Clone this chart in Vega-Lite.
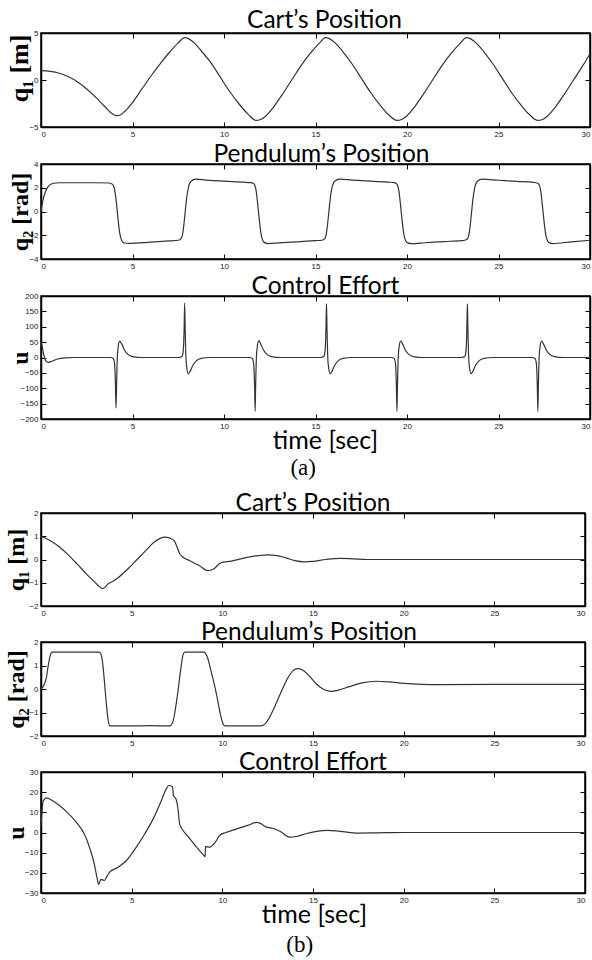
{
"$schema": "https://vega.github.io/schema/vega-lite/v6.json",
"background": "white",
"padding": {"left": 3, "top": 6, "right": 0, "bottom": 0},
"spacing": 9,
"datasets": {
"a1": [{"t":0,"v":1.0},{"t":0.5,"v":0.92},{"t":1,"v":0.72},{"t":1.5,"v":0.35},{"t":2,"v":-0.2},{"t":2.5,"v":-0.95},{"t":3,"v":-1.85},{"t":3.5,"v":-2.85},{"t":3.9,"v":-3.6},{"t":4.1,"v":-3.8},{"t":4.3,"v":-3.75},{"t":4.6,"v":-3.3},{"t":5,"v":-2.4},{"t":5.5,"v":-1.0},{"t":6,"v":0.4},{"t":6.5,"v":1.7},{"t":7,"v":2.9},{"t":7.5,"v":3.95},{"t":7.85,"v":4.5},{"t":8.1,"v":4.35},{"t":8.4,"v":3.9},{"t":8.8,"v":3.0},{"t":9.3,"v":1.8},{"t":9.8,"v":0.3},{"t":10.3,"v":-1.2},{"t":10.8,"v":-2.5},{"t":11.3,"v":-3.6},{"t":11.75,"v":-4.3},{"t":12,"v":-4.2},{"t":12.3,"v":-3.8},{"t":12.7,"v":-2.9},{"t":13.2,"v":-1.5},{"t":13.7,"v":0.0},{"t":14.2,"v":1.5},{"t":14.7,"v":2.8},{"t":15.2,"v":3.9},{"t":15.55,"v":4.5},{"t":15.8,"v":4.35},{"t":16.1,"v":3.9},{"t":16.5,"v":3.0},{"t":17,"v":1.7},{"t":17.5,"v":0.2},{"t":18,"v":-1.3},{"t":18.5,"v":-2.6},{"t":19,"v":-3.7},{"t":19.45,"v":-4.3},{"t":19.7,"v":-4.2},{"t":20,"v":-3.8},{"t":20.4,"v":-2.9},{"t":20.9,"v":-1.5},{"t":21.4,"v":0.0},{"t":21.9,"v":1.5},{"t":22.4,"v":2.8},{"t":22.9,"v":3.9},{"t":23.25,"v":4.5},{"t":23.5,"v":4.35},{"t":23.8,"v":3.9},{"t":24.2,"v":3.0},{"t":24.7,"v":1.7},{"t":25.2,"v":0.2},{"t":25.7,"v":-1.3},{"t":26.2,"v":-2.6},{"t":26.7,"v":-3.7},{"t":27.15,"v":-4.3},{"t":27.4,"v":-4.2},{"t":27.7,"v":-3.8},{"t":28.1,"v":-2.9},{"t":28.6,"v":-1.5},{"t":29.1,"v":0.0},{"t":29.6,"v":1.5},{"t":30,"v":2.8}],
"a2": [{"t":0,"v":0},{"t":0.1,"v":0.9},{"t":0.25,"v":1.7},{"t":0.45,"v":2.2},{"t":0.7,"v":2.38},{"t":1.0,"v":2.42},{"t":2.0,"v":2.42},{"t":3.0,"v":2.42},{"t":3.7,"v":2.4},{"t":3.9,"v":2.3},{"t":4.0,"v":2.0},{"t":4.1,"v":1.0},{"t":4.2,"v":-0.5},{"t":4.3,"v":-1.8},{"t":4.4,"v":-2.4},{"t":4.55,"v":-2.65},{"t":4.8,"v":-2.68},{"t":6,"v":-2.58},{"t":7,"v":-2.48},{"t":7.5,"v":-2.42},{"t":7.65,"v":-2.3},{"t":7.75,"v":-1.8},{"t":7.85,"v":-0.5},{"t":7.95,"v":1.0},{"t":8.05,"v":2.0},{"t":8.2,"v":2.55},{"t":8.45,"v":2.72},{"t":9,"v":2.65},{"t":10,"v":2.55},{"t":11,"v":2.47},{"t":11.5,"v":2.43},{"t":11.65,"v":2.3},{"t":11.75,"v":1.8},{"t":11.85,"v":0.5},{"t":11.95,"v":-1.0},{"t":12.05,"v":-2.1},{"t":12.2,"v":-2.6},{"t":12.4,"v":-2.7},{"t":13,"v":-2.65},{"t":14,"v":-2.55},{"t":15,"v":-2.45},{"t":15.35,"v":-2.42},{"t":15.5,"v":-2.3},{"t":15.6,"v":-1.8},{"t":15.7,"v":-0.5},{"t":15.8,"v":1.0},{"t":15.9,"v":2.0},{"t":16.05,"v":2.55},{"t":16.3,"v":2.72},{"t":17,"v":2.65},{"t":18,"v":2.55},{"t":19,"v":2.47},{"t":19.3,"v":2.43},{"t":19.45,"v":2.3},{"t":19.55,"v":1.8},{"t":19.65,"v":0.5},{"t":19.75,"v":-1.0},{"t":19.85,"v":-2.1},{"t":20.0,"v":-2.6},{"t":20.2,"v":-2.7},{"t":21,"v":-2.63},{"t":22,"v":-2.53},{"t":23,"v":-2.45},{"t":23.15,"v":-2.42},{"t":23.3,"v":-2.3},{"t":23.4,"v":-1.8},{"t":23.5,"v":-0.5},{"t":23.6,"v":1.0},{"t":23.7,"v":2.0},{"t":23.85,"v":2.55},{"t":24.1,"v":2.72},{"t":25,"v":2.63},{"t":26,"v":2.53},{"t":26.9,"v":2.45},{"t":27.1,"v":2.4},{"t":27.2,"v":2.3},{"t":27.3,"v":1.8},{"t":27.4,"v":0.5},{"t":27.5,"v":-1.0},{"t":27.6,"v":-2.1},{"t":27.75,"v":-2.6},{"t":27.95,"v":-2.7},{"t":29,"v":-2.55},{"t":30,"v":-2.42}],
"a3": [{"t":0,"v":50},{"t":0.05,"v":40},{"t":0.15,"v":10},{"t":0.25,"v":-10},{"t":0.4,"v":-16},{"t":0.6,"v":-12},{"t":0.9,"v":-5},{"t":1.3,"v":-1},{"t":1.8,"v":0},{"t":3.8,"v":0},{"t":3.95,"v":-3},{"t":4.02,"v":-20},{"t":4.07,"v":-90},{"t":4.1,"v":-165},{"t":4.13,"v":-90},{"t":4.17,"v":0},{"t":4.22,"v":35},{"t":4.3,"v":53},{"t":4.4,"v":45},{"t":4.55,"v":25},{"t":4.75,"v":10},{"t":5.0,"v":3},{"t":5.5,"v":0},{"t":7.55,"v":0},{"t":7.7,"v":3},{"t":7.77,"v":20},{"t":7.82,"v":90},{"t":7.85,"v":177},{"t":7.88,"v":90},{"t":7.92,"v":0},{"t":7.97,"v":-35},{"t":8.05,"v":-53},{"t":8.15,"v":-45},{"t":8.3,"v":-25},{"t":8.5,"v":-10},{"t":8.75,"v":-3},{"t":9.25,"v":0},{"t":11.4,"v":0},{"t":11.55,"v":-3},{"t":11.62,"v":-20},{"t":11.67,"v":-90},{"t":11.7,"v":-175},{"t":11.73,"v":-90},{"t":11.77,"v":0},{"t":11.82,"v":35},{"t":11.9,"v":55},{"t":12.0,"v":45},{"t":12.15,"v":25},{"t":12.35,"v":10},{"t":12.6,"v":3},{"t":13.1,"v":0},{"t":15.3,"v":0},{"t":15.45,"v":3},{"t":15.52,"v":20},{"t":15.57,"v":90},{"t":15.6,"v":175},{"t":15.63,"v":90},{"t":15.67,"v":0},{"t":15.72,"v":-35},{"t":15.8,"v":-53},{"t":15.9,"v":-45},{"t":16.05,"v":-25},{"t":16.25,"v":-10},{"t":16.5,"v":-3},{"t":17,"v":0},{"t":19.15,"v":0},{"t":19.3,"v":-3},{"t":19.37,"v":-20},{"t":19.42,"v":-90},{"t":19.45,"v":-175},{"t":19.48,"v":-90},{"t":19.52,"v":0},{"t":19.57,"v":35},{"t":19.65,"v":53},{"t":19.75,"v":45},{"t":19.9,"v":25},{"t":20.1,"v":10},{"t":20.35,"v":3},{"t":20.85,"v":0},{"t":23.0,"v":0},{"t":23.15,"v":3},{"t":23.22,"v":20},{"t":23.27,"v":90},{"t":23.3,"v":175},{"t":23.33,"v":90},{"t":23.37,"v":0},{"t":23.42,"v":-35},{"t":23.5,"v":-53},{"t":23.6,"v":-45},{"t":23.75,"v":-25},{"t":23.95,"v":-10},{"t":24.2,"v":-3},{"t":24.7,"v":0},{"t":26.85,"v":0},{"t":27.0,"v":-3},{"t":27.07,"v":-20},{"t":27.12,"v":-90},{"t":27.15,"v":-175},{"t":27.18,"v":-90},{"t":27.22,"v":0},{"t":27.27,"v":35},{"t":27.35,"v":53},{"t":27.45,"v":45},{"t":27.6,"v":25},{"t":27.8,"v":10},{"t":28.05,"v":3},{"t":28.55,"v":0},{"t":30,"v":0}],
"b1": [{"t":0,"v":1.0},{"t":0.5,"v":0.82},{"t":1,"v":0.55},{"t":1.5,"v":0.2},{"t":2,"v":-0.2},{"t":2.5,"v":-0.62},{"t":3,"v":-1.0},{"t":3.4,"v":-1.25},{"t":3.55,"v":-1.18},{"t":3.7,"v":-1.05},{"t":4,"v":-0.92},{"t":4.3,"v":-0.75},{"t":4.8,"v":-0.4},{"t":5.3,"v":0.0},{"t":5.8,"v":0.4},{"t":6.2,"v":0.72},{"t":6.6,"v":0.92},{"t":6.8,"v":0.96},{"t":7.1,"v":0.92},{"t":7.35,"v":0.8},{"t":7.5,"v":0.55},{"t":7.65,"v":0.25},{"t":7.8,"v":0.12},{"t":8.2,"v":-0.05},{"t":8.7,"v":-0.25},{"t":9.2,"v":-0.48},{"t":9.5,"v":-0.42},{"t":9.9,"v":-0.15},{"t":10.5,"v":-0.07},{"t":11.3,"v":0.08},{"t":12,"v":0.17},{"t":12.5,"v":0.2},{"t":13,"v":0.17},{"t":13.5,"v":0.07},{"t":14,"v":-0.05},{"t":14.5,"v":-0.1},{"t":15,"v":-0.08},{"t":15.7,"v":0.0},{"t":16.5,"v":0.05},{"t":17.2,"v":0.03},{"t":18,"v":0.0},{"t":20,"v":0},{"t":25,"v":0},{"t":30,"v":0}],
"b2": [{"t":0,"v":0},{"t":0.15,"v":0.15},{"t":0.3,"v":0.5},{"t":0.4,"v":1.0},{"t":0.5,"v":1.4},{"t":0.6,"v":1.57},{"t":1,"v":1.57},{"t":2,"v":1.57},{"t":3.2,"v":1.57},{"t":3.3,"v":1.5},{"t":3.4,"v":1.1},{"t":3.5,"v":0.3},{"t":3.6,"v":-0.6},{"t":3.7,"v":-1.3},{"t":3.8,"v":-1.57},{"t":5,"v":-1.57},{"t":6,"v":-1.56},{"t":7.1,"v":-1.57},{"t":7.25,"v":-1.45},{"t":7.5,"v":-0.4},{"t":7.7,"v":0.8},{"t":7.85,"v":1.5},{"t":7.95,"v":1.57},{"t":9.0,"v":1.57},{"t":9.15,"v":1.4},{"t":9.4,"v":0.7},{"t":9.7,"v":-0.3},{"t":9.9,"v":-1.1},{"t":10.05,"v":-1.5},{"t":10.15,"v":-1.57},{"t":12.1,"v":-1.57},{"t":12.4,"v":-1.45},{"t":12.8,"v":-0.9},{"t":13.2,"v":-0.2},{"t":13.6,"v":0.45},{"t":13.9,"v":0.78},{"t":14.15,"v":0.87},{"t":14.4,"v":0.82},{"t":14.8,"v":0.55},{"t":15.2,"v":0.2},{"t":15.6,"v":-0.02},{"t":16.0,"v":-0.1},{"t":16.4,"v":-0.05},{"t":17,"v":0.1},{"t":17.7,"v":0.26},{"t":18.5,"v":0.33},{"t":19.2,"v":0.3},{"t":20,"v":0.24},{"t":21,"v":0.2},{"t":22,"v":0.19},{"t":25,"v":0.2},{"t":30,"v":0.2}],
"b3": [{"t":0,"v":3},{"t":0.05,"v":10},{"t":0.12,"v":15.5},{"t":0.3,"v":17.2},{"t":0.6,"v":16},{"t":1.0,"v":13.5},{"t":1.5,"v":9.5},{"t":2.0,"v":4.5},{"t":2.4,"v":-1},{"t":2.7,"v":-8},{"t":2.95,"v":-16},{"t":3.1,"v":-23},{"t":3.18,"v":-25.7},{"t":3.3,"v":-23.2},{"t":3.5,"v":-23.8},{"t":3.65,"v":-21.5},{"t":3.8,"v":-19.5},{"t":4.2,"v":-17.5},{"t":4.7,"v":-14},{"t":5.2,"v":-8},{"t":5.7,"v":-1},{"t":6.2,"v":7},{"t":6.6,"v":15},{"t":6.9,"v":21.5},{"t":7.05,"v":23.3},{"t":7.25,"v":22.8},{"t":7.3,"v":18.5},{"t":7.45,"v":16.5},{"t":7.55,"v":12},{"t":7.65,"v":4},{"t":7.8,"v":1.5},{"t":8.2,"v":-3},{"t":8.6,"v":-7.5},{"t":9.0,"v":-11.5},{"t":9.05,"v":-12},{"t":9.07,"v":-7},{"t":9.3,"v":-7.3},{"t":9.6,"v":-5},{"t":9.85,"v":-1.5},{"t":10.2,"v":0},{"t":10.8,"v":1.8},{"t":11.4,"v":3.5},{"t":11.9,"v":5},{"t":12.1,"v":4.5},{"t":12.4,"v":2.8},{"t":12.8,"v":2.0},{"t":13.2,"v":0.5},{"t":13.7,"v":-2.3},{"t":14.1,"v":-2.0},{"t":14.6,"v":-0.6},{"t":15.2,"v":0.6},{"t":15.8,"v":1.1},{"t":16.5,"v":0.6},{"t":17.5,"v":-0.3},{"t":18.5,"v":-0.2},{"t":20,"v":0},{"t":25,"v":0},{"t":30,"v":0}]
},
"vconcat": [
{
"title": {"text": "(a)", "orient": "bottom", "anchor": "middle", "frame": "bounds", "font": "Liberation Serif", "fontSize": 23, "dx": 4, "offset": 3, "baseline": "top"},
"spacing": 1,
"vconcat": [
{"width": 549, "height": 94, "title": {"text": "Cart’s Position", "dx": 9, "offset": -4}, "data": {"name": "a1"},
"layer": [
{"mark": {"type": "line", "color": "#333", "strokeWidth": 1.2, "interpolate": "monotone"},
"encoding": {
"x": {"field": "t", "type": "quantitative", "scale": {"domain": [0, 30], "nice": false}, "axis": {"values": [0,5,10,15,20,25,30], "title": null, "labelFlush": true}},
"y": {"field": "v", "type": "quantitative", "scale": {"domain": [-5, 5], "nice": false}, "axis": {"values": [-5,0,5], "title": "q₁ [m]", "titleFontSize": 26, "titleY": 35}}}},
{"mark": {"type": "line", "opacity": 0},
"encoding": {
"x": {"field": "t", "type": "quantitative", "axis": {"orient": "top", "values": [5,10,15,20,25], "labels": false, "title": null, "minExtent": 0, "maxExtent": 0}},
"y": {"field": "v", "type": "quantitative", "axis": {"orient": "right", "values": [0], "labels": false, "title": null, "minExtent": 0, "maxExtent": 0}}}}
],
"resolve": {"axis": {"x": "independent", "y": "independent"}}},
{"width": 549, "height": 95, "title": {"text": "Pendulum’s Position", "dx": 6}, "data": {"name": "a2"},
"layer": [
{"mark": {"type": "line", "color": "#333", "strokeWidth": 1.2, "interpolate": "monotone"},
"encoding": {
"x": {"field": "t", "type": "quantitative", "scale": {"domain": [0, 30], "nice": false}, "axis": {"values": [0,5,10,15,20,25,30], "title": null, "labelFlush": true}},
"y": {"field": "v", "type": "quantitative", "scale": {"domain": [-4, 4], "nice": false}, "axis": {"values": [-4,-2,0,2,4], "title": "q₂ [rad]"}}}},
{"mark": {"type": "line", "opacity": 0},
"encoding": {
"x": {"field": "t", "type": "quantitative", "axis": {"orient": "top", "values": [5,10,15,20,25], "labels": false, "title": null, "minExtent": 0, "maxExtent": 0}},
"y": {"field": "v", "type": "quantitative", "axis": {"orient": "right", "values": [-2,0,2], "labels": false, "title": null, "minExtent": 0, "maxExtent": 0}}}}
],
"resolve": {"axis": {"x": "independent", "y": "independent"}}},
{"width": 549, "height": 123, "title": {"text": "Control Effort", "dx": 10}, "data": {"name": "a3"},
"layer": [
{"mark": {"type": "line", "color": "#333", "strokeWidth": 1.2, "interpolate": "monotone"},
"encoding": {
"x": {"field": "t", "type": "quantitative", "scale": {"domain": [0, 30], "nice": false}, "axis": {"values": [0,5,10,15,20,25,30], "title": "time [sec]", "titleFont": "Lato", "titleFontWeight": "normal", "titleFontSize": 25, "titlePadding": -2, "titleX": 284, "labelFlush": true}},
"y": {"field": "v", "type": "quantitative", "scale": {"domain": [-200, 200], "nice": false}, "axis": {"values": [-200,-150,-100,-50,0,50,100,150,200], "title": "u"}}}},
{"mark": {"type": "line", "opacity": 0},
"encoding": {
"x": {"field": "t", "type": "quantitative", "axis": {"orient": "top", "values": [5,10,15,20,25], "labels": false, "title": null, "minExtent": 0, "maxExtent": 0}},
"y": {"field": "v", "type": "quantitative", "axis": {"orient": "right", "values": [-150,-100,-50,0,50,100,150], "labels": false, "title": null, "minExtent": 0, "maxExtent": 0}}}}
],
"resolve": {"axis": {"x": "independent", "y": "independent"}}}
]
},
{
"title": {"text": "(b)", "orient": "bottom", "anchor": "middle", "frame": "bounds", "font": "Liberation Serif", "fontSize": 23, "dx": 4, "offset": 6, "baseline": "top"},
"spacing": 0,
"vconcat": [
{"width": 544, "height": 93, "title": {"text": "Cart’s Position", "dx": 0}, "data": {"name": "b1"},
"layer": [
{"mark": {"type": "line", "color": "#333", "strokeWidth": 1.2, "interpolate": "monotone"},
"encoding": {
"x": {"field": "t", "type": "quantitative", "scale": {"domain": [0, 30], "nice": false}, "axis": {"values": [0,5,10,15,20,25,30], "title": null, "labelFlush": true}},
"y": {"field": "v", "type": "quantitative", "scale": {"domain": [-2, 2], "nice": false}, "axis": {"values": [-2,-1,0,1,2], "title": "q₁ [m]", "minExtent": 8, "maxExtent": 8}}}},
{"mark": {"type": "line", "opacity": 0},
"encoding": {
"x": {"field": "t", "type": "quantitative", "axis": {"orient": "top", "values": [5,10,15,20,25], "labels": false, "title": null, "minExtent": 0, "maxExtent": 0}},
"y": {"field": "v", "type": "quantitative", "axis": {"orient": "right", "values": [-1,0,1], "labels": false, "title": null, "minExtent": 0, "maxExtent": 0}}}}
],
"resolve": {"axis": {"x": "independent", "y": "independent"}}},
{"width": 544, "height": 94, "title": {"text": "Pendulum’s Position", "dx": -4}, "data": {"name": "b2"},
"layer": [
{"mark": {"type": "line", "color": "#333", "strokeWidth": 1.2, "interpolate": "monotone"},
"encoding": {
"x": {"field": "t", "type": "quantitative", "scale": {"domain": [0, 30], "nice": false}, "axis": {"values": [0,5,10,15,20,25,30], "title": null, "labelFlush": true}},
"y": {"field": "v", "type": "quantitative", "scale": {"domain": [-2, 2], "nice": false}, "axis": {"values": [-2,-1,0,1,2], "title": "q₂ [rad]", "minExtent": 8, "maxExtent": 8}}}},
{"mark": {"type": "line", "opacity": 0},
"encoding": {
"x": {"field": "t", "type": "quantitative", "axis": {"orient": "top", "values": [5,10,15,20,25], "labels": false, "title": null, "minExtent": 0, "maxExtent": 0}},
"y": {"field": "v", "type": "quantitative", "axis": {"orient": "right", "values": [-1,0,1], "labels": false, "title": null, "minExtent": 0, "maxExtent": 0}}}}
],
"resolve": {"axis": {"x": "independent", "y": "independent"}}},
{"width": 544, "height": 121, "title": {"text": "Control Effort", "dx": 0}, "data": {"name": "b3"},
"layer": [
{"mark": {"type": "line", "color": "#333", "strokeWidth": 1.2, "interpolate": "monotone"},
"encoding": {
"x": {"field": "t", "type": "quantitative", "scale": {"domain": [0, 30], "nice": false}, "axis": {"values": [0,5,10,15,20,25,30], "title": "time [sec]", "titleFont": "Lato", "titleFontWeight": "normal", "titleFontSize": 25, "titlePadding": -2, "titleX": 273, "labelFlush": true}},
"y": {"field": "v", "type": "quantitative", "scale": {"domain": [-30, 30], "nice": false}, "axis": {"values": [-30,-20,-10,0,10,20,30], "title": "u", "minExtent": 8, "maxExtent": 8}}}},
{"mark": {"type": "line", "opacity": 0},
"encoding": {
"x": {"field": "t", "type": "quantitative", "axis": {"orient": "top", "values": [5,10,15,20,25], "labels": false, "title": null, "minExtent": 0, "maxExtent": 0}},
"y": {"field": "v", "type": "quantitative", "axis": {"orient": "right", "values": [-20,-10,0,10,20], "labels": false, "title": null, "minExtent": 0, "maxExtent": 0}}}}
],
"resolve": {"axis": {"x": "independent", "y": "independent"}}}
]
}
],
"config": {
"view": {"stroke": "black", "strokeWidth": 1.5},
"axis": {"domainColor": "black", "domainWidth": 1.5, "tickColor": "black", "tickWidth": 1, "tickSize": -5, "grid": false, "labelFont": "Liberation Sans", "labelFontSize": 8, "labelColor": "#222", "labelPadding": 8, "titleFont": "Liberation Serif", "titleFontWeight": "bold", "titleFontSize": 24, "titleColor": "black", "titlePadding": 5},
"axisX": {"minExtent": 11, "maxExtent": 11},
"axisY": {"minExtent": 4, "maxExtent": 4},
"title": {"font": "Lato", "fontSize": 24.5, "fontWeight": "normal", "color": "black", "offset": -7, "frame": "group", "baseline": "alphabetic"}
}
}
